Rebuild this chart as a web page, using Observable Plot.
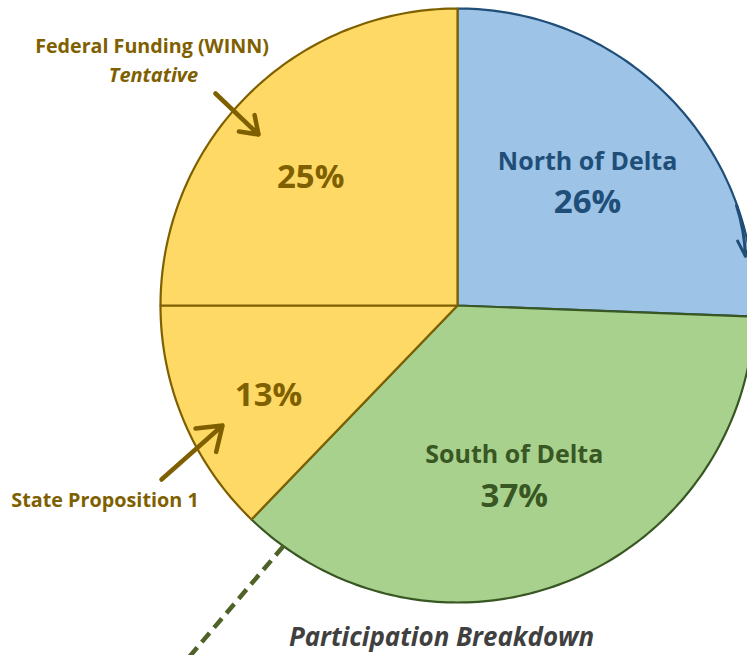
<!DOCTYPE html>
<html>
<head>
<meta charset="utf-8">
<script src="https://cdn.jsdelivr.net/npm/d3@7"></script>
<script src="https://cdn.jsdelivr.net/npm/@observablehq/plot@0.6"></script>
<style>
  html, body { margin: 0; padding: 0; background: #fff; }
</style>
</head>
<body>
<div id="chart"></div>
<script>
// ---- data ----
const categories = ["North of Delta", "South of Delta", "State Proposition 1", "Federal Funding (WINN)"];
const shares = [25.6, 36.6, 12.8, 25.0];           // percent of participation
const shareLabels = ["26%", "37%", "13%", "25%"];
const innerNames = ["North of Delta", "South of Delta", null, null];
const title = "Participation Breakdown";
const federalNote = "Tentative";

// ---- layout / style ----
const W = 747, H = 655;
const cx = 457, cy = 305, R = 297;
const fills   = ["#9DC3E6", "#A9D18E", "#FFD966", "#FFD966"];
const strokes = ["#1F4E79", "#385723", "#7F6000", "#7F6000"];
const textColors = ["#1F4E79", "#385723", "#7F6000", "#7F6000"];
const labelRadius = [0.603, 0.604, 0.705, 0.655];
const labelAngleShift = [0.5, 3.5, -2.5, -4];      // degrees
const FONT = "'Open Sans', Lato, sans-serif";

// pie geometry from the data (angles clockwise from 12 o'clock)
const pie = d3.pie().sort(null).value(d => d.v).startAngle(0).endAngle(2 * Math.PI);
const arcs = pie(categories.map((c, i) => ({c, v: shares[i], i})));
const pt = (a, r) => ({x: r * Math.sin(a), y: r * Math.cos(a)});

const slicePts = arcs.map(a => {
  const pts = [{...pt(0, 0)}];
  const n = Math.max(4, Math.ceil((a.endAngle - a.startAngle) / (Math.PI / 180)));
  for (let k = 0; k <= n; k++) pts.push(pt(a.startAngle + (a.endAngle - a.startAngle) * k / n, 1));
  pts.push({...pt(0, 0)});
  return pts;
});

const mid = a => (a.startAngle + a.endAngle) / 2;
const labelPos = arcs.map((a, i) => pt(mid(a) + labelAngleShift[i] * Math.PI / 180, labelRadius[i]));

// px -> pie units helper for annotations
const ux = px => (px - cx) / R;
const uy = py => (cy - py) / R;

const marks = [];
slicePts.forEach((pts, i) => {
  marks.push(Plot.line(pts, {x: "x", y: "y", fill: fills[i], stroke: strokes[i], strokeWidth: 2.2, strokeLinejoin: "round"}));
});

// slice labels
arcs.forEach((a, i) => {
  const p = labelPos[i];
  if (innerNames[i]) {
    marks.push(Plot.text([innerNames[i]], {x: () => p.x, y: () => p.y + 0.069, text: d => d,
      fill: textColors[i], fontSize: 25, fontWeight: "bold", fontFamily: FONT}));
    marks.push(Plot.text([shareLabels[i]], {x: () => p.x, y: () => p.y - 0.069, text: d => d,
      fill: textColors[i], fontSize: 33, fontWeight: "bold", fontFamily: FONT}));
  } else {
    marks.push(Plot.text([shareLabels[i]], {x: () => p.x, y: () => p.y, text: d => d,
      fill: textColors[i], fontSize: 33, fontWeight: "bold", fontFamily: FONT}));
  }
});

// callouts
marks.push(Plot.text([categories[3]], {x: () => ux(151.5), y: () => uy(46), text: d => d,
  fill: "#7F6000", fontSize: 19.7, fontWeight: "bold", fontFamily: FONT}));
marks.push(Plot.text([federalNote], {x: () => ux(153), y: () => uy(75), text: d => d,
  fill: "#7F6000", fontSize: 20, fontWeight: "bold", fontStyle: "italic", fontFamily: FONT}));
marks.push(Plot.text([categories[2]], {x: () => ux(104.5), y: () => uy(500), text: d => d,
  fill: "#7F6000", fontSize: 19.8, fontWeight: "bold", fontFamily: FONT}));

marks.push(Plot.arrow([0], {x1: () => ux(215), y1: () => uy(93), x2: () => ux(258), y2: () => uy(134),
  stroke: "#7F6000", strokeWidth: 4.5, headLength: 11, headAngle: 70}));
marks.push(Plot.arrow([0], {x1: () => ux(161), y1: () => uy(479), x2: () => ux(222), y2: () => uy(425),
  stroke: "#7F6000", strokeWidth: 4.5, headLength: 11, headAngle: 70}));

// connector arrow at right edge (blue) and dashed connector (green)
marks.push(Plot.arrow([0], {x1: () => ux(736), y1: () => uy(205), x2: () => ux(745), y2: () => uy(256),
  stroke: "#1F4E79", strokeWidth: 3, headLength: 10, headAngle: 50, bend: 8}));
const dStart = pt(arcs[1].startAngle + (arcs[1].endAngle - arcs[1].startAngle) * 0.939, 1);
marks.push(Plot.link([0], {x1: () => dStart.x, y1: () => dStart.y, x2: () => ux(178), y2: () => uy(669),
  stroke: "#4F6228", strokeWidth: 4.5, strokeDasharray: "12,7"}));

// title
marks.push(Plot.text([title], {x: () => ux(441), y: () => uy(637), text: d => d,
  fill: "#404040", fontSize: 25.9, fontWeight: "bold", fontStyle: "italic", fontFamily: FONT}));

const chart = Plot.plot({
  width: W, height: H,
  margin: 0,
  x: {domain: [ux(0), ux(W)], range: [0, W], axis: null},
  y: {domain: [uy(H), uy(0)], range: [H, 0], axis: null},
  style: {background: "#fff", overflow: "hidden"},
  marks
});
document.getElementById("chart").appendChild(chart);
</script>
</body>
</html>
